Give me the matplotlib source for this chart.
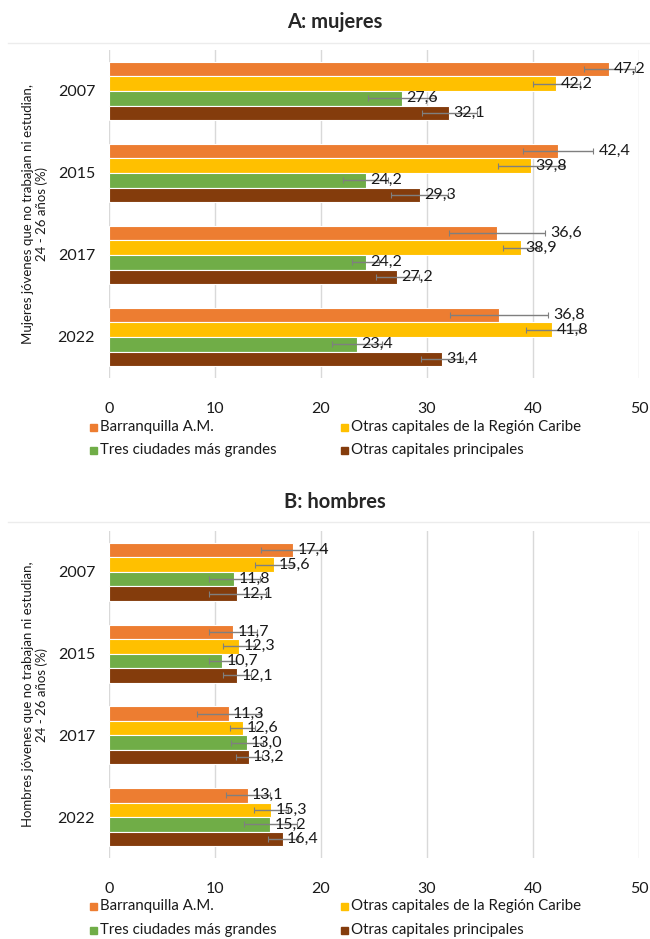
import matplotlib
matplotlib.use("Agg")
import matplotlib.pyplot as plt
import numpy as np
from matplotlib.lines import Line2D

years = ["2007", "2015", "2017", "2022"]
series = ["Barranquilla A.M.", "Otras capitales de la Región Caribe",
          "Tres ciudades más grandes", "Otras capitales principales"]
colors = ["#ED7D31", "#FFC000", "#70AD47", "#843C0C"]

# rows: years; cols: series
mujeres = [[47.2, 42.2, 27.6, 32.1],
           [42.4, 39.8, 24.2, 29.3],
           [36.6, 38.9, 24.2, 27.2],
           [36.8, 41.8, 23.4, 31.4]]
mujeres_err = [[2.4, 2.2, 3.2, 2.6],
               [3.3, 3.1, 2.15, 2.7],
               [4.5, 1.7, 1.3, 2.0],
               [4.6, 2.5, 2.4, 2.0]]
hombres = [[17.4, 15.6, 11.8, 12.1],
           [11.7, 12.3, 10.7, 12.1],
           [11.3, 12.6, 13.0, 13.2],
           [13.1, 15.3, 15.2, 16.4]]
hombres_err = [[3.1, 1.8, 2.4, 2.7],
               [2.3, 1.5, 1.3, 1.3],
               [3.0, 1.2, 1.5, 1.2],
               [2.1, 1.6, 2.5, 1.4]]

titles = ["A: mujeres", "B: hombres"]
ylabels = ["Mujeres jóvenes que no trabajan ni estudian,\n24 - 26 años (%)",
           "Hombres jóvenes que no trabajan ni estudian,\n24 - 26 años (%)"]
xticks = [0, 10, 20, 30, 40, 50]

plt.rcParams['font.family'] = ['Lato', 'DejaVu Sans']

W, H = 650, 939
fig = plt.figure(figsize=(W / 100, H / 100), dpi=100)

def px_axes(x0, y0, x1, y1):
    return fig.add_axes([x0 / W, 1 - y1 / H, (x1 - x0) / W, (y1 - y0) / H])

panels = [
    dict(vals=mujeres, errs=mujeres_err, top=50, bottom=378, title_y=22, line_y=43,
         leg_y=[427, 450]),
    dict(vals=hombres, errs=hombres_err, top=531, bottom=858, title_y=502, line_y=522,
         leg_y=[906, 930]),
]

for p, title, ylab in zip(panels, titles, ylabels):
    ax = px_axes(109, p['top'], 639, p['bottom'])
    vals = np.array(p['vals'])
    errs = np.array(p['errs'])
    n = len(years)
    bh = 0.178
    for j in range(len(series)):
        ypos = np.arange(n) + (j - 1.5) * bh
        ax.barh(ypos, vals[:, j], height=bh, color=colors[j], edgecolor='white',
                linewidth=0.8, zorder=2)
        ax.errorbar(vals[:, j], ypos, xerr=errs[:, j], fmt='none', ecolor='#7f7f7f',
                    elinewidth=1.0, capsize=2, capthick=0.8, zorder=3)
        for i in range(n):
            v, e = vals[i, j], errs[i, j]
            xl = v + e + 0.5 if e > 3.2 else v + 0.4
            ax.text(xl, ypos[i], f"{v:.1f}".replace('.', ','), va='center', ha='left',
                    fontsize=11.5, color='#1a1a1a', zorder=4)
    ax.set_ylim(n - 0.5, -0.5)
    ax.set_xlim(0, 50)
    ax.set_yticks(range(n))
    ax.set_yticklabels(years, fontsize=11.5)
    ax.set_xticks(xticks)
    ax.set_xticklabels([str(t) for t in xticks], fontsize=11.5)
    ax.tick_params(axis='both', length=0, colors='#1a1a1a')
    ax.tick_params(axis='x', pad=17)
    ax.tick_params(axis='y', pad=10)
    for s in ax.spines.values():
        s.set_visible(False)
    ax.grid(axis='x', color='#d9d9d9', linewidth=1.0, zorder=0)
    ax.set_axisbelow(True)
    fig.text(35 / W, 1 - (p['top'] + p['bottom']) / 2 / H, ylab, rotation=90,
             ha='center', va='center', fontsize=9.5, color='#1a1a1a',
             multialignment='center')
    fig.text(335 / W, 1 - p['title_y'] / H, title, ha='center', va='center',
             fontsize=14.5, fontweight='bold', color='#262626')
    fig.add_artist(Line2D([8 / W, 1], [1 - p['line_y'] / H] * 2, color='#ececec',
                          linewidth=1.0))
    # legend
    lx = [90, 341]
    for k, (name, c) in enumerate(zip(series, colors)):
        r, col = divmod(k, 2)
        x0 = lx[col]
        y0 = p['leg_y'][r]
        fig.add_artist(plt.Rectangle(((x0) / W, 1 - (y0 + 3.5) / H), 7 / W, 7 / H,
                                     color=c, transform=fig.transFigure))
        fig.text((x0 + 10) / W, 1 - y0 / H, name, ha='left', va='center',
                 fontsize=10.8, color='#1a1a1a')

fig.savefig("out.png", dpi=100)
